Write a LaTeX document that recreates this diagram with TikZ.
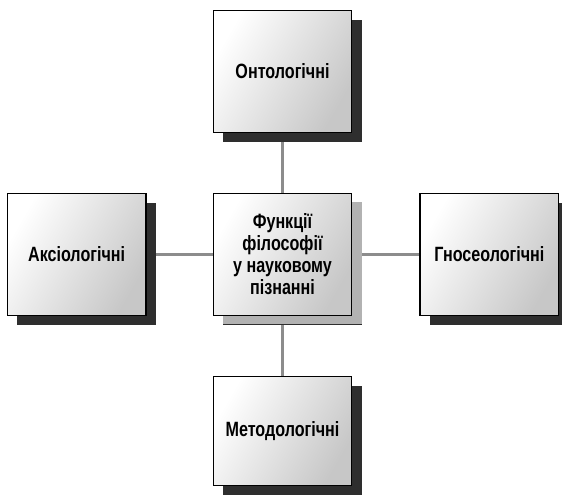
\documentclass[tikz,border=0pt]{standalone}
\usepackage{fontspec}
\setmainfont{Liberation Sans}[FakeStretch=0.78]
\usetikzlibrary{positioning,shadows,backgrounds}

\begin{document}
\begin{tikzpicture}[x=0.75pt,y=-0.75pt,
                func/.style={draw,line width=0.9pt,minimum width=104pt,minimum height=91.5pt,
                        inner sep=2pt,align=center,font=\bfseries\fontsize{15.5}{16.5}\selectfont,
                        shading=axis,left color=white,right color=black!22,shading angle=60,
                        general shadow={fill=black!82,shadow xshift=7.5pt,shadow yshift=-7pt}},
                core/.style={func,general shadow={fill=black!30,shadow xshift=7.5pt,shadow yshift=-6pt}},
                link/.style={draw=black!45,line width=1.6pt}]
            \useasboundingbox (0,0) rectangle (562,504);
            \node[core] (C) at (282.5,254.5) {Функції\\ філософії\\ у науковому\\ пізнанні};
            \node[func,above=45pt of C] (O) {Онтологічні};
            \node[func,left=49.5pt of C] (A) {Аксіологічні};
            \node[func,right=50.25pt of C] (G) {Гносеологічні};
            \node[func,below=45pt of C,minimum height=81.75pt] (M) {Методологічні};
            %
            \begin{scope}[on background layer]
                \path[link] (O) -- (C) (A) -- (C) (G) -- (C) (M) -- (C);
            \end{scope}
        \end{tikzpicture}
\end{document}
